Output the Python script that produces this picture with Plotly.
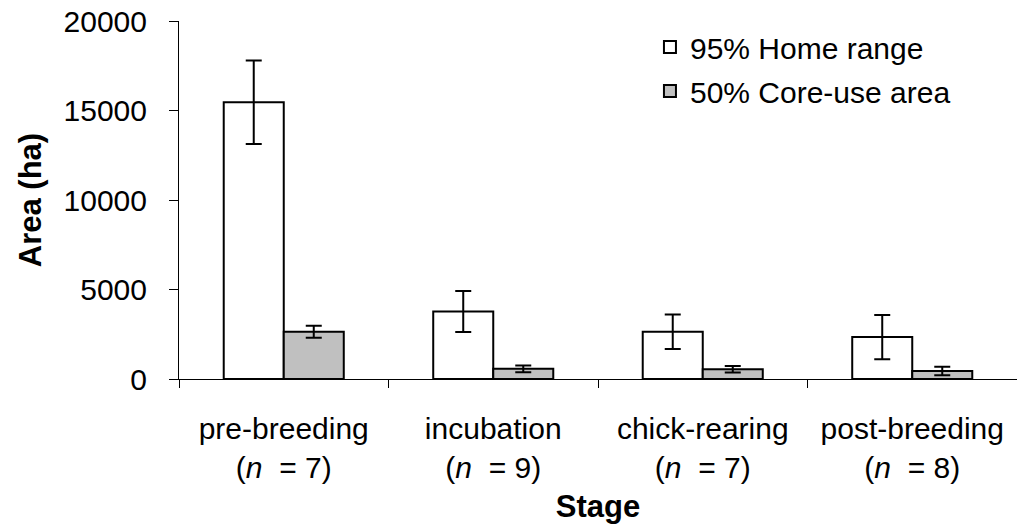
import plotly.graph_objects as go

stages = ["pre-breeding", "incubation", "chick-rearing", "post-breeding"]
n_values = [7, 9, 7, 8]
home_range = [15460, 3770, 2640, 2340]
home_err = [2330, 1150, 960, 1230]
core_area = [2640, 570, 540, 450]
core_err = [335, 190, 180, 235]
y_ticks = [0, 5000, 10000, 15000, 20000]

tick_text = [f"{s}<br>(<i>n</i>  = {n})" for s, n in zip(stages, n_values)]

FONT = "Liberation Sans, Arial, sans-serif"

fig = go.Figure()
fig.add_trace(go.Bar(
    x=stages, y=home_range, name="95% Home range",
    marker=dict(color="white", line=dict(color="black", width=2)),
    error_y=dict(type="data", array=home_err, visible=True, color="black", thickness=2, width=8),
    legendgroup="a",
))
fig.add_trace(go.Bar(
    x=stages, y=core_area, name="50% Core-use area",
    marker=dict(color="#C0C0C0", line=dict(color="black", width=2)),
    error_y=dict(type="data", array=core_err, visible=True, color="black", thickness=2, width=8),
    legendgroup="b",
))

fig.update_layout(
    width=1017, height=531,
    margin=dict(l=179, r=0, t=21, b=152),
    paper_bgcolor="white", plot_bgcolor="white",
    barmode="group", bargap=0.427, bargroupgap=0,
    font=dict(family=FONT, color="black", size=30),
    showlegend=True,
    legend=dict(x=0.562, y=1.0, xanchor="left", yanchor="top",
                font=dict(size=30, family=FONT), bgcolor="rgba(0,0,0,0)",
                traceorder="grouped", tracegroupgap=2),
    xaxis=dict(
        tickmode="array", tickvals=stages, ticktext=tick_text,
        tickson="boundaries", ticks="outside", ticklen=8, tickcolor="black", tickwidth=1,
        showline=True, linecolor="black", linewidth=1,
        tickfont=dict(size=30, family=FONT), ticklabelstandoff=23,
        title=dict(text="<b>Stage</b>", font=dict(size=31, family=FONT), standoff=12),
        showgrid=False,
    ),
    yaxis=dict(
        range=[0, 20000], tickvals=y_ticks, ticktext=[str(v) for v in y_ticks],
        ticks="outside", ticklen=9, tickcolor="black", tickwidth=1,
        showline=True, linecolor="black", linewidth=1,
        tickfont=dict(size=30, family=FONT), ticklabelstandoff=16,
        title=dict(text="<b>Area (ha)</b>", font=dict(size=31, family=FONT), standoff=12),
        showgrid=False, zeroline=False,
    ),
)

fig.write_html("out.html")
